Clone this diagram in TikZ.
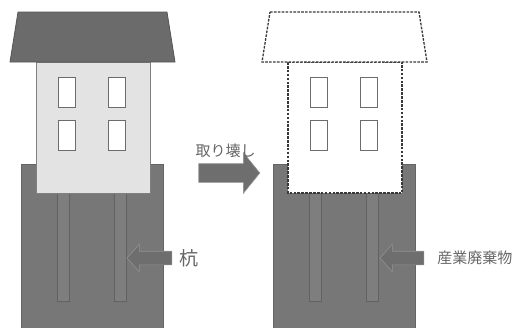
\documentclass[tikz,border=0pt]{standalone}
\usepackage{fontspec}
\newfontfamily\jpfont{Noto Sans CJK JP}
\usetikzlibrary{positioning,shapes.arrows}

\definecolor{roofgray}{HTML}{6B6B6B}
\definecolor{soilgray}{HTML}{777777}
\definecolor{pilegray}{HTML}{7E7E7E}
\definecolor{wallgray}{HTML}{E3E3E3}
\definecolor{arrgray}{HTML}{6E6E6E}
\definecolor{labgray}{HTML}{666666}

\begin{document}
\begin{tikzpicture}[
  x=1pt, y=-1pt,
  soil/.style={fill=soilgray, draw=soilgray!85!black, line width=0.8pt},
  pile/.style={fill=pilegray, draw=pilegray!78!black, line width=0.8pt},
  roof/.style={fill=roofgray, draw=roofgray!80!black, line width=0.8pt},
  wall/.style={fill=wallgray, draw=gray, line width=0.8pt},
  win/.style={fill=white, draw=gray!85!black, line width=1pt},
  gone/.style={fill=white, draw=gray!45!black, dash pattern=on 2.6pt off 1.3pt, line width=1.3pt},
  blockarr/.style={shape=single arrow, fill=arrgray, draw=arrgray!75!white, line width=0.6pt,
    inner xsep=0pt, single arrow head indent=0pt},
  lab/.style={font=\jpfont\fontsize{15}{17}\selectfont, text=labgray, inner sep=0pt}
]
\useasboundingbox (0,0) rectangle (517,327);
\clip (0,0) rectangle (517,327);

% ---- two houses: standing (left) and demolished (right) ----
\foreach \dx/\rf/\wl in {0/roof/wall, 252/gone/gone}{
  \begin{scope}[xshift=\dx pt]
    % ground and piles
    \draw[soil] (21,164) rectangle (163,335);
    \draw[pile] (57,193) rectangle (69,301);
    \draw[pile] (114,193) rectangle (126,301);
    % body and roof
    \draw[\wl] (36,62) rectangle (150,193);
    \draw[\rf] (18,12) -- (167,12) -- (175,62) -- (10,62) -- cycle;
    % windows
    \foreach \wx in {58,108}
      \foreach \wy in {77,120}
        \draw[win] (\wx,\wy) rectangle ++(17.5,30);
  \end{scope}
}

% ---- demolition arrow ----
\node[blockarr, inner ysep=9pt, minimum height=61pt, single arrow head extend=11pt,
  single arrow tip angle=102] (move) at (225.5,173) {};
\node[lab, above=6pt of move] (movelab) {取り壊し};

% ---- pointers to piles / waste ----
\node[blockarr, inner ysep=6.5pt, minimum height=45pt, single arrow head extend=7pt,
  single arrow tip angle=96, shape border rotate=180] (pileptr) at (152.5,258) {};
\node[lab, right=7pt of pileptr, font=\jpfont\fontsize{19}{21}\selectfont] (pilelab) {杭};

\node[blockarr, inner ysep=6.5pt, minimum height=44pt, single arrow head extend=7pt,
  single arrow tip angle=96, shape border rotate=180] (wasteptr) at (405,258) {};
\node[lab, right=13pt of wasteptr] (wastelab) {産業廃棄物};

\end{tikzpicture}
\end{document}
